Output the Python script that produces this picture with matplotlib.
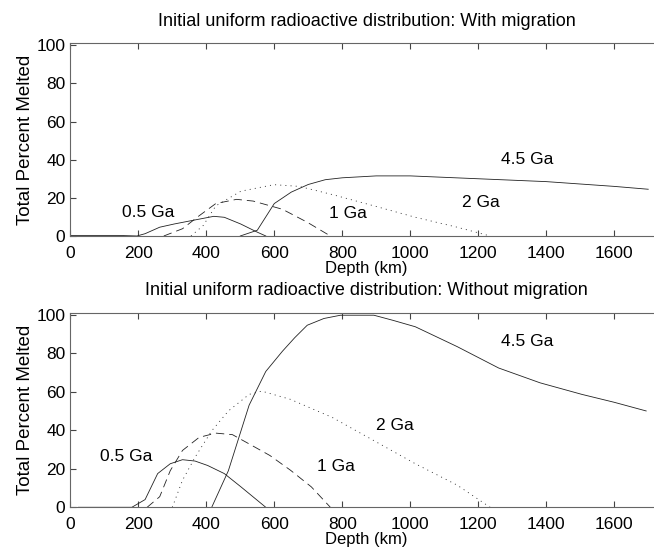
import matplotlib
matplotlib.use("Agg")
import matplotlib.pyplot as plt

plt.rcParams["font.family"] = ["Liberation Sans", "DejaVu Sans"]

# =============================
# Data (depth in km, percent melted)
# =============================
# With migration
mig_05_depth = [0, 140, 196, 220, 263, 306, 355, 422, 453, 501, 550, 575]
mig_05_melt = [0.3, 0.3, 0, 1.2, 4.6, 6.3, 8, 10.3, 9.8, 6.3, 2, 0]

mig_1_depth = [275, 330, 379, 428, 489, 538, 624, 697, 765]
mig_1_melt = [0, 3.8, 10.6, 17, 19.2, 18.3, 14, 7.2, 0]

mig_2_depth = [355, 391, 428, 502, 599, 673, 771, 893, 1015, 1138, 1235]
mig_2_melt = [0, 5.5, 15.8, 23.5, 26.9, 26, 21.7, 15.8, 9.8, 4.6, 0]

mig_45_depth = [500, 550, 575, 600, 650, 700, 750, 800, 900, 1000, 1200, 1400, 1600, 1700]
mig_45_melt = [0, 3, 10, 17, 23, 27, 29.5, 30.5, 31.5, 31.5, 30, 28.5, 26, 24.5]

# Without migration
nomig_05_depth = [24, 181, 220, 257, 294, 330, 367, 404, 453, 502, 575]
nomig_05_melt = [0, 0, 4, 17.5, 22.6, 24.7, 24, 21.7, 17.5, 10.6, 0]

nomig_1_depth = [226, 263, 294, 330, 379, 428, 477, 526, 587, 648, 709, 765]
nomig_1_melt = [0, 5.5, 19, 29.5, 36.3, 38.5, 37.7, 32.9, 26.9, 19.2, 10.6, 0]

nomig_2_depth = [300, 330, 367, 416, 465, 526, 563, 648, 771, 893, 1015, 1138, 1235]
nomig_2_melt = [0, 14, 26, 39.7, 50, 58.6, 60.3, 56, 46.6, 34.6, 22.6, 11.5, 0]

nomig_45_depth = [416, 465, 526, 575, 624, 660, 697, 746, 795, 893, 950, 1015,
                  1138, 1260, 1382, 1505, 1600, 1694]
nomig_45_melt = [0, 19, 53, 70.5, 81, 88, 94.5, 98, 99.7, 99.7, 97, 93.7,
                 83.4, 72.3, 64.6, 58.6, 54.5, 50]

ages = ["0.5 Ga", "1 Ga", "2 Ga", "4.5 Ga"]
mig_label_pos = [(229, 12.3), (817, 12), (1207, 17.5), (1343, 40.1)]
nomig_label_pos = [(165, 26.5), (780, 21), (956, 42.3), (1343, 86)]

styles = [
    dict(linestyle="-"),
    dict(linestyle=(0, (10, 6))),
    dict(linestyle=(0, (1.2, 5))),
    dict(linestyle="-"),
]

# =============================
# Plot
# =============================
fig = plt.figure(figsize=(6.54, 5.52), dpi=100)
ax1 = fig.add_axes([0.1075, 0.5725, 0.906, 0.349])
ax2 = fig.add_axes([0.1075, 0.081, 0.906, 0.3525])

panels = [
    (ax1, "Initial uniform radioactive distribution: With migration",
     [(mig_05_depth, mig_05_melt), (mig_1_depth, mig_1_melt),
      (mig_2_depth, mig_2_melt), (mig_45_depth, mig_45_melt)], mig_label_pos),
    (ax2, "Initial uniform radioactive distribution: Without migration",
     [(nomig_05_depth, nomig_05_melt), (nomig_1_depth, nomig_1_melt),
      (nomig_2_depth, nomig_2_melt), (nomig_45_depth, nomig_45_melt)], nomig_label_pos),
]

for ax, title, series, label_pos in panels:
    for (d, m), st in zip(series, styles):
        ax.plot(d, m, color="#222222", linewidth=0.6, **st)
    for age, (x, y) in zip(ages, label_pos):
        ax.text(x, y, age, ha="center", va="center", fontsize=12.5)
    ax.set_xlim(0, 1743)
    ax.set_ylim(0, 101)
    ax.set_xticks([0, 200, 400, 600, 800, 1000, 1200, 1400, 1600])
    ax.set_yticks([0, 20, 40, 60, 80, 100])
    ax.tick_params(direction="in", top=True, right=True, labelsize=12.5,
                   length=4, width=0.8, color="#444444")
    ax.tick_params(axis="x", pad=7)
    ax.tick_params(axis="y", pad=3.5)
    for sp in ax.spines.values():
        sp.set_color("#666666")
        sp.set_linewidth(0.8)
    ax.set_xlabel("Depth (km)", fontsize=12, labelpad=0)
    ax.set_ylabel("Total Percent Melted", fontsize=13.5, labelpad=2)
    ax.set_title(title, fontsize=13, pad=12.4)

fig.savefig("out.png", dpi=100)
